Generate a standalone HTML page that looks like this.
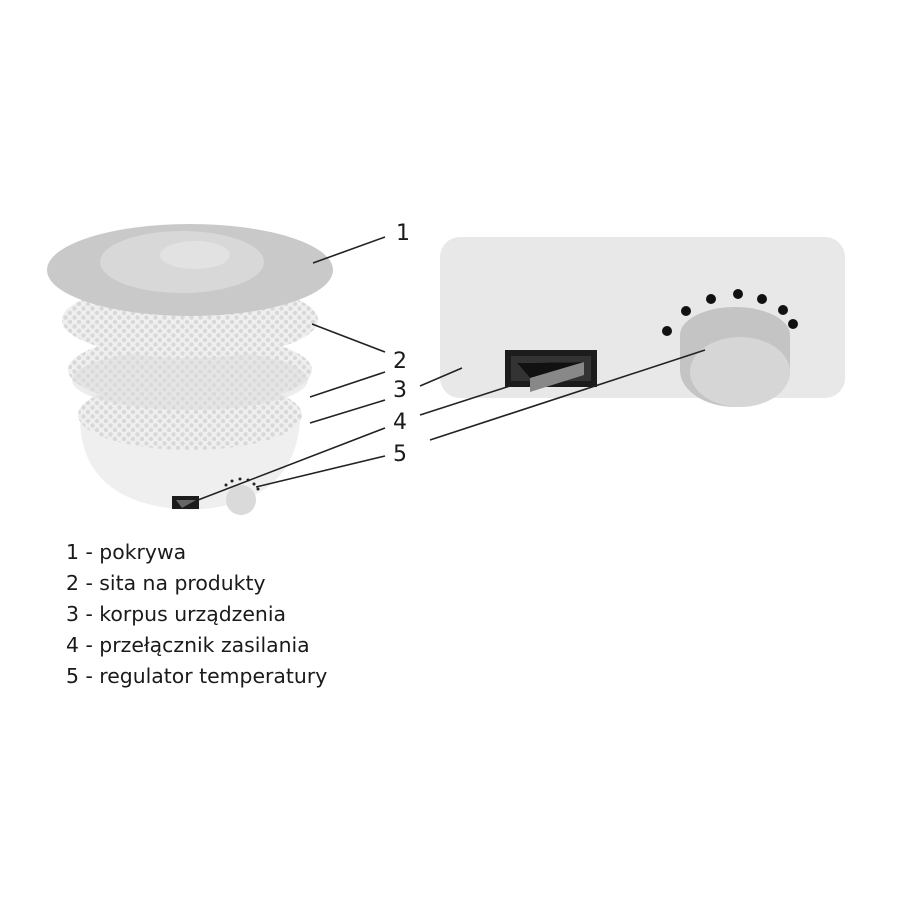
<!DOCTYPE html>
<html><head><meta charset="utf-8"><style>
html,body{margin:0;padding:0;background:#fff;width:900px;height:900px;overflow:hidden}
svg{position:absolute;left:0;top:0}
.t{font-family:"DejaVu Sans","Liberation Sans",sans-serif;font-size:20.4px;fill:#1a1a1a}
.n{font-family:"DejaVu Sans","Liberation Sans",sans-serif;font-size:22px;fill:#1a1a1a}
</style></head><body>
<svg width="900" height="900" viewBox="0 0 900 900">
<defs>
<pattern id="dots" width="9" height="9" patternUnits="userSpaceOnUse">
<rect width="9" height="9" fill="#efefef"/>
<circle cx="2.5" cy="2.5" r="2.2" fill="#d8d8d8"/>
<circle cx="7" cy="7" r="2.2" fill="#d8d8d8"/>
</pattern>
</defs>
<rect x="440" y="237" width="405" height="161" rx="20" fill="#e8e8e8"/>
<rect x="505" y="350" width="92" height="37" fill="#1c1c1c"/>
<rect x="511" y="356" width="80" height="25" fill="#333"/>
<polygon points="517,363 584,362 584,375 530,392 530,378" fill="#888"/>
<polygon points="517,363 584,362 530,378" fill="#111"/>
<ellipse cx="735" cy="370" rx="55" ry="37" fill="#c4c4c4"/>
<rect x="680" y="335" width="110" height="35" fill="#c4c4c4"/>
<ellipse cx="735" cy="335" rx="55" ry="28" fill="#c4c4c4"/>
<ellipse cx="740" cy="372" rx="50" ry="35" fill="#d6d6d6"/>
<g fill="#111">
<circle cx="667" cy="331" r="5"/><circle cx="686" cy="311" r="5"/><circle cx="711" cy="299" r="5"/>
<circle cx="738" cy="294" r="5"/><circle cx="762" cy="299" r="5"/><circle cx="783" cy="310" r="5"/><circle cx="793" cy="324" r="5"/>
</g>
<path d="M80 420 Q82 505 190 510 Q295 505 300 420 Z" fill="#efefef"/>
<ellipse cx="190" cy="415" rx="112" ry="35" fill="url(#dots)"/>
<ellipse cx="190" cy="370" rx="122" ry="36" fill="url(#dots)"/>
<ellipse cx="190" cy="380" rx="118" ry="30" fill="#dcdcdc" opacity="0.5"/>
<ellipse cx="190" cy="320" rx="128" ry="38" fill="url(#dots)"/>
<ellipse cx="190" cy="270" rx="143" ry="46" fill="#c9c9c9"/>
<ellipse cx="182" cy="262" rx="82" ry="31" fill="#d8d8d8"/>
<ellipse cx="195" cy="255" rx="35" ry="14" fill="#e2e2e2"/>
<rect x="172" y="496" width="27" height="13" fill="#1c1c1c"/>
<polygon points="176,500 196,500 182,508" fill="#666"/>
<circle cx="241" cy="500" r="15" fill="#dadada"/>
<g fill="#222"><circle cx="226" cy="485" r="1.5"/><circle cx="232" cy="481" r="1.5"/><circle cx="240" cy="479" r="1.5"/><circle cx="248" cy="480" r="1.5"/><circle cx="254" cy="484" r="1.5"/><circle cx="258" cy="489" r="1.5"/></g>
<g stroke="#222" stroke-width="1.6" fill="none">
<line x1="313" y1="263" x2="385" y2="237"/>
<line x1="312" y1="324" x2="385" y2="352"/>
<line x1="310" y1="397" x2="385" y2="372"/>
<line x1="310" y1="423" x2="385" y2="400"/>
<line x1="198" y1="500" x2="385" y2="428"/>
<line x1="256" y1="487" x2="385" y2="456"/>
<line x1="420" y1="386" x2="462" y2="368"/>
<line x1="420" y1="415" x2="510" y2="386"/>
<line x1="430" y1="440" x2="705" y2="350"/>
</g>
<g class="n">
<text x="396" y="240">1</text>
<text x="393" y="368">2</text>
<text x="393" y="397">3</text>
<text x="393" y="429">4</text>
<text x="393" y="461">5</text>
</g>
<g class="t">
<text x="66" y="559">1 - pokrywa</text>
<text x="66" y="590">2 - sita na produkty</text>
<text x="66" y="621">3 - korpus urządzenia</text>
<text x="66" y="652">4 - przełącznik zasilania</text>
<text x="66" y="683">5 - regulator temperatury</text>
</g>
</svg>
</body></html>
